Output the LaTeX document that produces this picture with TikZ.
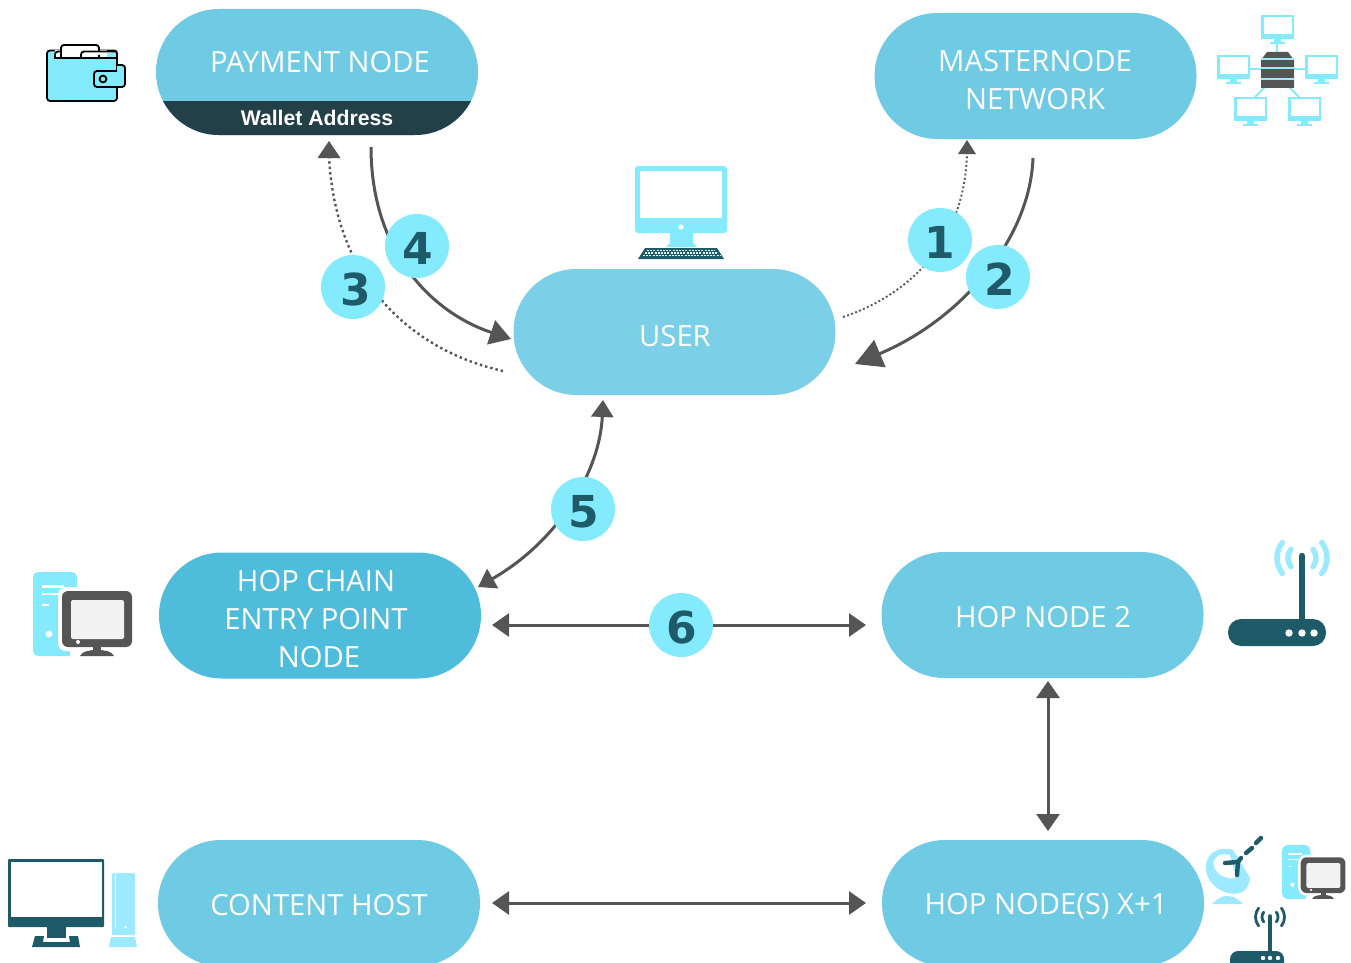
\documentclass[tikz,border=0pt]{standalone}
\usepackage{fontspec}
\setmainfont{Open Sans}
\newfontfamily\badgefont{DejaVu Sans}[BoldFont={DejaVu Sans Bold}]
\newfontfamily\walletfont{Liberation Sans}
\usetikzlibrary{arrows.meta,calc}
\definecolor{pillA}{HTML}{6FCAE3}
\definecolor{pillB}{HTML}{7BCFE6}
\definecolor{pillC}{HTML}{4FBCDC}
\definecolor{cyanI}{HTML}{84EBFF}
\definecolor{cyanL}{HTML}{9DE9FF}
\definecolor{tealD}{HTML}{1F5A68}
\definecolor{bandD}{HTML}{233F47}
\definecolor{greyA}{HTML}{555555}
\tikzset{
  pill/.style={rectangle,rounded corners=62.9pt,minimum width=322pt,minimum height=126pt,inner sep=0pt,draw=none},
  pilltext/.style={text=white,font=\fontsize{29.2}{38}\selectfont,align=center,inner sep=0pt},
  badge/.style={circle,fill=cyanI,minimum size=64pt,inner sep=0pt,text=tealD,text height=37pt,text depth=0pt,font=\fontsize{44}{44}\selectfont\badgefont\bfseries},
  solidcon/.style={draw=greyA,line width=3pt},
  dotcon/.style={draw=greyA,line width=2.4pt,dash pattern=on 2.4pt off 3pt},
}
\newcommand{\moni}[2]{% x,y top-left of a 33x24 monitor
  \fill[cyanI] (#1,#2) rectangle ++(33,24);
  \fill[white] (#1+2.5,#2+2.5) rectangle ++(28,16.5);
  \fill[cyanI] (#1+13,#2+24) rectangle ++(7,3);
  \fill[cyanI] (#1+9,#2+27) rectangle ++(15,1.8);
}
\newcommand{\towerpc}{%
  \fill[cyanI,rounded corners=5pt] (33,572) rectangle (77,656);
  \fill[white] (42,585) rectangle (64,587.5);
  \fill[white] (42,593) rectangle (58,595);
  \fill[white] (42,604) rectangle (49,606);
  \fill[white] (49,634) circle (3.4);
  \fill[white,rounded corners=8pt] (58,587) rectangle (136,651);
  \fill[white] (70,651) rectangle (120,660);
  \fill[greyA,rounded corners=6pt] (62,591) rectangle (132,647);
  \fill[white!95!black,rounded corners=2pt] (71,600) rectangle (124,639);
  \fill[white] (78,642) circle (2);
  \fill[greyA] (93,646) rectangle (101,651);
  \fill[greyA] (80,656) .. controls (82,651) and (90,650) .. (97,650) .. controls (104,650) and (112,651) .. (114,656) -- cycle;
}
\begin{document}
\begin{tikzpicture}[x=1pt,y=-1pt]
\useasboundingbox (0,0) rectangle (1351,963);
\clip (0,0) rectangle (1351,963);

% connectors' free ends
\coordinate (c4a) at (371,147); \coordinate (c4b) at (511,339);
\coordinate (c3a) at (503,371); \coordinate (c3b) at (329,141);
\coordinate (c1a) at (843,317); \coordinate (c1b) at (967,140);
\coordinate (c2a) at (1033,158); \coordinate (c2b) at (855,364);
\coordinate (c5a) at (603,400); \coordinate (c5b) at (478,587);
\coordinate (c6a) at (492,625); \coordinate (c6b) at (866,625);
\coordinate (c7a) at (1048,681); \coordinate (c7b) at (1048,831);
\coordinate (c8a) at (492,903); \coordinate (c8b) at (866,903);

% pills
\node[pill,fill=pillA] (pay) at (317,72) {};
\begin{scope}
  \clip[rounded corners=62.9pt] (156,9) rectangle (478,135);
  \fill[bandD] (150,101) rectangle (490,140);
\end{scope}
\node[pilltext] (paytext) at (320,62) {PAYMENT NODE};
\node[text=white,font=\fontsize{21.2}{24}\selectfont\walletfont\bfseries,inner sep=0pt] (wallettext) at (317,118) {Wallet Address};

\node[pill,fill=pillA] (master) at (1035.5,76) {};
\node[pilltext] (mastertext) at (1035,80) {MASTERNODE\\NETWORK};
\node[pill,fill=pillB] (user) at (674.5,332) {};
\node[pilltext] (usertext) at (675,336) {USER};
\node[pill,fill=pillC] (entry) at (320,615.5) {};
\node[pilltext] (entrytext) at (316,619) {HOP CHAIN\\ENTRY POINT\\\hspace*{6pt}NODE};
\node[pill,fill=pillA] (hop2) at (1042.5,615) {};
\node[pilltext] (hop2text) at (1043,617) {HOP NODE 2};
\node[pill,fill=pillA] (content) at (319,903) {};
\node[pilltext] (contenttext) at (319,905) {CONTENT HOST};
\node[pill,fill=pillA] (hopx) at (1043,903) {};
\node[pilltext] (hopxtext) at (1046,906.5) {HOP NODE(S) X+1};

% connectors
\draw[solidcon,-{Triangle[length=21pt,width=25pt]},fill=none] (c4a) .. controls (371,250) and (430,312) .. (c4b);
\draw[dotcon] (c3a) .. controls (410,350) and (335,280) .. ($(c3b)+(0,15)$);
\fill[greyA] (c3b) -- ++(11.5,17) -- ++(-23,0) -- cycle;
\draw[dotcon,line width=1.9pt,dash pattern=on 1.9pt off 2.4pt] (c1a) .. controls (900,298) and (965,250) .. ($(c1b)+(0,12)$);
\fill[greyA] (c1b) -- ++(9,14) -- ++(-18,0) -- cycle;
\draw[solidcon,-{Triangle[length=27pt,width=29pt]}] (c2a) .. controls (1030,240) and (960,320) .. (c2b);
\draw[solidcon,{Triangle[length=17pt,width=22pt]}-{Triangle[length=17pt,width=22pt]}] (c5a) .. controls (600,470) and (560,540) .. (c5b);
\draw[solidcon,{Triangle[length=17pt,width=23pt]}-{Triangle[length=17pt,width=23pt]}] (c6a) -- (c6b);
\draw[solidcon,{Triangle[length=17pt,width=23pt]}-{Triangle[length=17pt,width=23pt]}] (c7a) -- (c7b);
\draw[solidcon,{Triangle[length=17pt,width=23pt]}-{Triangle[length=17pt,width=23pt]}] (c8a) -- (c8b);

% badges
\node[badge] (b1) at (940,240) {1};
\node[badge] (b2) at (998,277) {\hspace*{3pt}2};
\node[badge] (b3) at (353,287) {\hspace*{5pt}3};
\node[badge] (b4) at (417,246) {\hspace*{2pt}4};
\node[badge] (b5) at (583,509) {\hspace*{2pt}5};
\node[badge] (b6) at (681,625) {\hspace*{2pt}6};

% wallet icon
\begin{scope}[line width=1.8pt,draw=black]
  \draw[fill=cyanI,rounded corners=3pt] (47,50.5) rectangle (117,101);
  \fill[white] (55,49.6) rectangle (107,58);
  \draw[fill=white,rounded corners=3pt] (61,58) -- (61,45) -- (99,45) -- (99,58);
  \draw[fill=white,rounded corners=3pt] (55,58) -- (55,51.5) -- (61,51.5);
  \draw[fill=white,rounded corners=3pt] (81,58) -- (81,51.5) -- (107,51.5) -- (117,51.5);
  \draw (54,58) -- (117,58);
  \draw[fill=cyanI,rounded corners=3pt] (117,65) -- (125,65) -- (125,87) -- (94,87) -- (94,71) -- (117,71);
  \draw (103,79) circle (3.4);
\end{scope}

% network icon
\draw[cyanI,line width=2pt] (1277,40) -- (1277,54);
\draw[cyanI,line width=2pt] (1250,69) -- (1262,69);
\draw[cyanI,line width=2pt] (1293,69) -- (1305,69);
\draw[cyanI,line width=2pt] (1255,97) -- (1266,86);
\draw[cyanI,line width=2pt] (1299,97) -- (1288,86);
\moni{1261}{15}\moni{1217}{55}\moni{1305}{55}\moni{1234}{97}\moni{1288}{97}
\fill[greyA] (1261,60) -- (1267,52) -- (1288,52) -- (1294,60) -- (1294,88) -- (1261,88) -- cycle;
\fill[cyanL] (1261,58) rectangle (1294,60);
\fill[cyanL] (1261,67.5) rectangle (1294,69.5);
\fill[cyanL] (1261,78) rectangle (1294,80);

% user computer icon
\fill[cyanI,rounded corners=3pt] (635,166) rectangle (727,233);
\fill[white] (640,171) rectangle (722,218);
\fill[white] (681,227) circle (2.6);
\fill[cyanI] (670,233) -- (693,233) -- (693,243) -- (697,247) -- (666,247) -- (670,243) -- cycle;
\fill[tealD] (645,248) -- (717,248) -- (724,259) -- (638,259) -- cycle;
\foreach \r/\yy/\aa/\bb in {0/250.5/647/715,1/253/645/717,2/255.8/643/720}{
  \draw[white!75!cyanI,line width=1.1pt,dash pattern=on 2pt off 1.2pt] (\aa,\yy) -- (\bb,\yy);
}

% entry node icon
\towerpc

% router icon
\fill[tealD,rounded corners=13pt] (1228,619) rectangle (1326,646);
\draw[tealD,line width=6.5pt,line cap=round] (1302,556) -- (1302,622);
\fill[white] (1289,633) circle (3.7);
\fill[white] (1302,633) circle (3.7);
\fill[white] (1314,633) circle (3.7);
\begin{scope}[cyanL,line width=5.6pt,line cap=round]
  \draw (1302,558) ++(-38:14) arc (-38:38:14);
  \draw (1302,558) ++(142:14) arc (142:218:14);
  \draw (1302,558) ++(-38:25) arc (-38:38:25);
  \draw (1302,558) ++(142:25) arc (142:218:25);
\end{scope}

% content host icon
\fill[tealD,rounded corners=1pt] (8,859) rectangle (104,927);
\fill[white] (11,862) rectangle (102,917);
\fill[tealD] (47,927) rectangle (66,938);
\fill[tealD] (35,936) -- (44,936) -- (43,942) -- (70,942) -- (69,936) -- (78,936) -- (80,947) -- (32,947) -- cycle;
\fill[cyanL,rounded corners=1pt] (112,873) rectangle (135,935);
\fill[white] (114.5,873) rectangle (116,928);
\fill[white] (125.5,927) circle (1.5);
\fill[cyanL] (111,937) -- (135,937) -- (137,947) -- (109,947) -- cycle;

% hop x+1 icons
\begin{scope}[shift={(1261,479)},scale=0.64]
  \towerpc
\end{scope}
% dish
\fill[cyanL] (1212,904) -- (1218,899) .. controls (1222,895) and (1232,895) .. (1237,899) -- (1243,904) -- cycle;
\fill[cyanL] (1233,850) .. controls (1216,845) and (1204,856) .. (1206,870) .. controls (1208,886) and (1226,897) .. (1240,893) .. controls (1246,891) and (1249,886) .. (1250,878) -- cycle;
\fill[white] (1230,855) .. controls (1220,852) and (1212,858) .. (1214,866) .. controls (1216,874) and (1226,880) .. (1236,878) -- cycle;
\draw[tealD,line width=4.4pt,line cap=round] (1238,862) -- (1225,863);
\draw[tealD,line width=4.4pt,line cap=round] (1238,862) -- (1237,875);
\draw[tealD,line width=4.4pt,line cap=round] (1238,862) -- (1241,858);
\draw[tealD,line width=4.4pt,line cap=round] (1246,853) -- (1252,848);
\draw[tealD,line width=4.4pt,line cap=round] (1256,843) -- (1261,838);
% small router
\fill[tealD,rounded corners=8pt] (1230,951) rectangle (1284,975);
\draw[tealD,line width=3.6pt,line cap=round] (1270,916) -- (1270,953);
\fill[white] (1263,958) circle (2.2);
\fill[white] (1270,958) circle (2.2);
\fill[white] (1278,958) circle (2.2);
\begin{scope}[tealD,line width=2.8pt,line cap=round]
  \draw (1270,917) ++(-38:8) arc (-38:38:8);
  \draw (1270,917) ++(142:8) arc (142:218:8);
  \draw (1270,917) ++(-38:14.5) arc (-38:38:14.5);
  \draw (1270,917) ++(142:14.5) arc (142:218:14.5);
\end{scope}
\end{tikzpicture}
\end{document}
